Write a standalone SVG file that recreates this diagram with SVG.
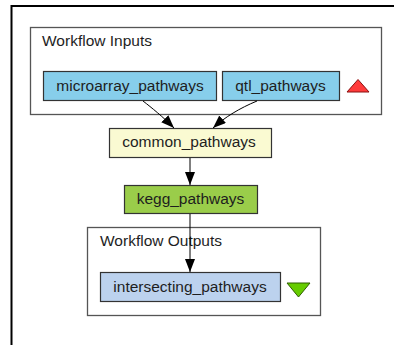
<svg xmlns="http://www.w3.org/2000/svg" width="394" height="345" viewBox="0 0 394 345">
  <style>
    text { font-family: "Liberation Sans", Arial, sans-serif; fill: #1e1e1e; }
    .label { font-size: 15.5px; text-anchor: middle; }
    .title { font-size: 15.5px; }
    .cluster { fill: #ffffff; stroke: #555555; stroke-width: 1.3; }
    .node { stroke: #333333; stroke-width: 1.2; }
    .edge { fill: none; stroke: #000000; stroke-width: 1; marker-end: url(#arrow); }
  </style>
  <defs>
    <marker id="arrow" viewBox="0 0 13 10" refX="13" refY="5" markerWidth="13" markerHeight="10" markerUnits="userSpaceOnUse" orient="auto">
      <path d="M0,0 L13,5 L0,10 z" fill="#000000"/>
    </marker>
  </defs>
  <rect width="394" height="345" fill="#ffffff"/>

  <!-- page frame -->
  <path d="M11.5,345 V6 H394" fill="none" stroke="#000000" stroke-width="2"/>

  <!-- input cluster -->
  <g id="cluster_inputs">
    <rect class="cluster" x="30.5" y="27.5" width="351" height="87"/>
    <text class="title" x="42" y="46">Workflow Inputs</text>
    <polygon points="347,92 369,92 358,79.5" fill="#ff3b3b" stroke="#8a1010" stroke-width="1"/>
  </g>

  <!-- output cluster -->
  <g id="cluster_outputs">
    <rect class="cluster" x="87.5" y="227.5" width="233" height="88"/>
    <text class="title" x="100" y="246">Workflow Outputs</text>
    <polygon points="287,283 310,283 298.5,297" fill="#66cc00" stroke="#2f5f00" stroke-width="1"/>
  </g>

  <g id="microarray_pathways">
    <rect class="node" x="43.5" y="71.5" width="173" height="29" fill="#87ceeb"/>
    <text class="label" x="130" y="90.5">microarray_pathways</text>
  </g>
  <g id="qtl_pathways">
    <rect class="node" x="222.5" y="71.5" width="117" height="29" fill="#87ceeb"/>
    <text class="label" x="280.5" y="90.5">qtl_pathways</text>
  </g>
  <g id="common_pathways">
    <rect class="node" x="109.5" y="128.5" width="162" height="29" fill="#fafad2"/>
    <text class="label" x="189" y="147">common_pathways</text>
  </g>
  <g id="kegg_pathways">
    <rect class="node" x="124.5" y="185.5" width="133" height="28" fill="#9acd4a"/>
    <text class="label" x="190.5" y="204">kegg_pathways</text>
  </g>
  <g id="intersecting_pathways">
    <rect class="node" x="100.5" y="272.5" width="180" height="29" fill="#bcd2ee"/>
    <text class="label" x="190" y="291.5">intersecting_pathways</text>
  </g>

  <!-- connectors -->
  <g id="edges">
    <path class="edge" d="M143,101 C152,108 162,116 174,128"/>
    <path class="edge" d="M257,101 C240,108 225,117 213,128"/>
    <path class="edge" d="M190,158 V185"/>
    <path class="edge" d="M190,214 V272"/>
  </g>
</svg>
